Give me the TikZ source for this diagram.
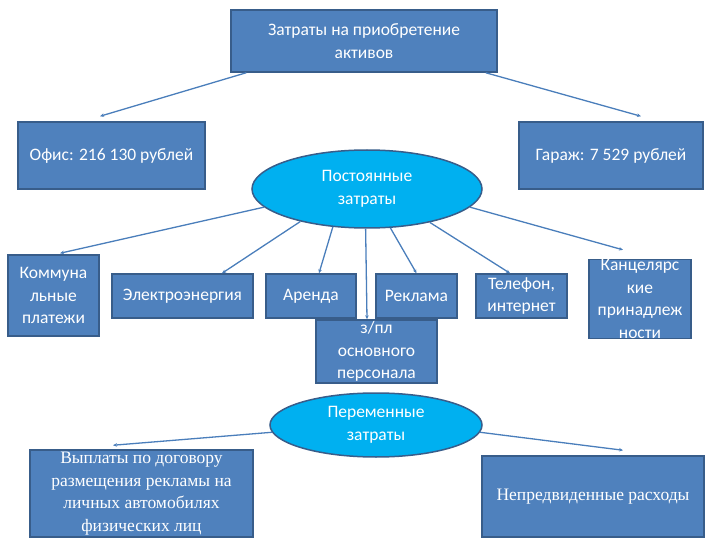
\documentclass[tikz,border=0pt]{standalone}
\usepackage{fontspec}
\setmainfont{Carlito}
\newfontfamily\serifru{Liberation Serif}
\usetikzlibrary{shapes.geometric, arrows.meta, positioning}
\definecolor{BoxBlue}{HTML}{4F81BD}
\definecolor{BoxEdge}{HTML}{385D8A}
\definecolor{OvalCyan}{HTML}{00B0F0}
\definecolor{LinkBlue}{HTML}{4A7EBB}

\tikzset{
    box/.style={draw=BoxEdge, line width=1.5pt, fill=BoxBlue, text=white,
        align=center, inner sep=0pt, font=\fontsize{17.5}{22.5}\selectfont},
    oval/.style={ellipse, draw=BoxEdge, line width=1.5pt, fill=OvalCyan,
        text=white, align=center, inner sep=0pt,
        font=\fontsize{17.5}{22.5}\selectfont},
    serifbox/.style={box, font=\serifru\fontsize{17.5}{22.5}\selectfont},
    link/.style={draw=LinkBlue, line width=1.3pt,
        -{Stealth[length=4pt, width=3.5pt]}}
}

\begin{document}
\begin{tikzpicture}[x=1pt, y=-1pt]
    \useasboundingbox (0,0) rectangle (720,540);

    % Assets
    \node[box, minimum width=266pt, minimum height=62pt] (aktivy) at (364,41)
        {Затраты на приобретение\\активов};
    \node[box, minimum width=187pt, minimum height=67pt] (ofis) at (111.5,155.5)
        {Офис: 216 130 рублей};
    \node[box, minimum width=184pt, minimum height=67pt] (garazh) at (611,155.5)
        {Гараж: 7 529 рублей};

    % Fixed costs
    \node[oval, minimum width=230pt, minimum height=78pt] (postoyan) at (367,189)
        {Постоянные\\затраты};
    \node[box, minimum width=91pt, minimum height=81pt] (kommun) at (53.5,295.5)
        {Коммуна\\льные\\платежи};
    \node[box, minimum width=141pt, minimum height=44pt] (elektro) at (182.5,296)
        {Электроэнергия};
    \node[box, minimum width=90pt, minimum height=44pt] (arenda) at (311,296)
        {Аренда};
    \node[box, minimum width=81pt, minimum height=44pt] (reklama) at (416.5,296)
        {Реклама};
    \node[box, minimum width=91pt, minimum height=44pt] (telefon) at (521.5,296)
        {Телефон,\\интернет};
    \node[box, minimum width=102pt, minimum height=78pt] (kants) at (640,299)
        {Канцелярс\\кие\\принадлеж\\ности};
    \node[box, minimum width=121pt, minimum height=63pt] (zpl) at (376.5,351.5)
        {з/пл\\основного\\персонала};

    % Variable costs
    \node[oval, minimum width=212pt, minimum height=64pt] (perem) at (376,425)
        {Переменные\\затраты};
    \node[serifbox, minimum width=223pt, minimum height=87pt] (vyplaty) at (141.5,493.5)
        {Выплаты по договору\\размещения рекламы на\\личных автомобилях\\физических лиц};
    \node[serifbox, minimum width=222pt, minimum height=81pt] (nepred) at (593,496.5)
        {Непредвиденные расходы};

    % Connectors
    \draw[link] ([xshift=16pt]aktivy.south west) -- ([xshift=-11.5pt, yshift=5pt]ofis.north);
    \draw[link] ([xshift=-12pt]aktivy.south east) -- ([xshift=30pt, yshift=5pt]garazh.north);

    \draw[link] (postoyan.190) -- ([xshift=6.5pt, yshift=1pt]kommun.north);
    \draw[link] (postoyan.206) -- ([xshift=39.5pt]elektro.north);
    \draw[link] (postoyan.228) -- ([xshift=8pt]arenda.north);
    \draw[link] (postoyan.268) -- ([xshift=-9.5pt]zpl.north);
    \draw[link] (postoyan.301) -- (reklama.north);
    \draw[link] (postoyan.332) -- ([xshift=-11.5pt]telefon.north);
    \draw[link] (postoyan.350) -- ([xshift=-17pt, yshift=9pt]kants.north);

    \draw[link] (perem.184) -- ([xshift=-28.5pt, yshift=4pt]vyplaty.north);
    \draw[link] (perem.356) -- ([xshift=30pt, yshift=5pt]nepred.north);
\end{tikzpicture}
\end{document}
